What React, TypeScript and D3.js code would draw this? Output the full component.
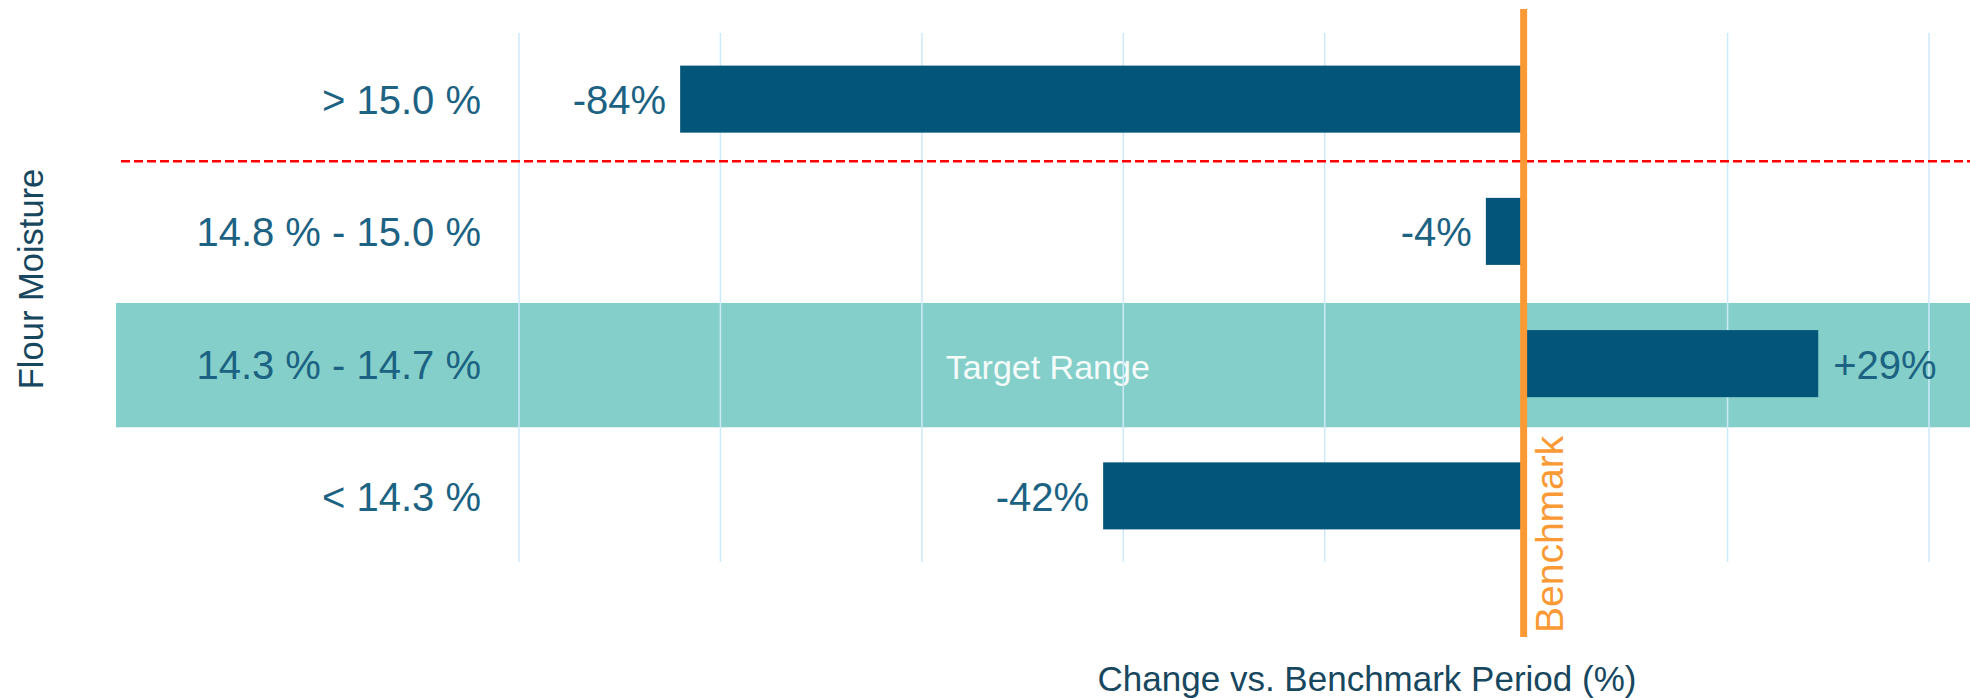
import React from "react";
import * as d3 from "d3";

const categories = ["> 15.0 %", "14.8 % - 15.0 %", "14.3 % - 14.7 %", "< 14.3 %"];
const values = [-84, -4, 29, -42];
const valueLabels = ["-84%", "-4%", "+29%", "-42%"];
const gridTicks = [-100, -80, -60, -40, -20, 0, 20, 40];
const targetCategory = "14.3 % - 14.7 %";
const targetLabel = "Target Range";
const targetLabelValue = -47.5;
const thresholdAfter = "> 15.0 %";
const xTitle = "Change vs. Benchmark Period (%)";
const yTitle = "Flour Moisture";
const benchmarkLabel = "Benchmark";

const W = 1970;
const H = 698;
const FONT = "'Liberation Sans', Arial, Helvetica, sans-serif";

export default function App() {
  const x = d3.scaleLinear().domain([-100, 40]).range([519, 1929]);
  const y = d3
    .scaleBand<string>()
    .domain(categories)
    .range([33, 562])
    .paddingInner(0.493)
    .paddingOuter(0.2465);
  const step = y.step();
  const center = (c: string) => (y(c) as number) + y.bandwidth() / 2;
  const plotLeft = 116;
  const plotRight = W;
  const x0 = x(0);

  const bandC = center(targetCategory) + 1.5;
  const bandH = step * 0.94;
  const thresholdY = center(thresholdAfter) + step / 2 - 4;

  return (
    <svg
      width={W}
      height={H}
      style={{ position: "absolute", left: 0, top: 0, display: "block" }}
      fontFamily={FONT}
    >
      <rect x={0} y={0} width={W} height={H} fill="#ffffff" />
      {/* target band */}
      <rect
        x={plotLeft}
        y={bandC - bandH / 2}
        width={plotRight - plotLeft}
        height={bandH}
        fill="#84cfc9"
      />
      <text
        x={x(targetLabelValue)}
        y={bandC + 2}
        dy="0.35em"
        textAnchor="middle"
        fontSize={34}
        fill="#f4fbfa"
      >
        {targetLabel}
      </text>
      {/* gridlines */}
      {gridTicks.map((t) => (
        <line
          key={t}
          x1={x(t)}
          x2={x(t)}
          y1={33}
          y2={562}
          stroke="#cdeafa"
          strokeWidth={1.5}
        />
      ))}
      {/* threshold dashed line */}
      <line
        x1={121}
        x2={plotRight}
        y1={thresholdY}
        y2={thresholdY}
        stroke="#ff0000"
        strokeWidth={2.6}
        strokeDasharray="9,4"
      />
      {/* bars */}
      {categories.map((c, i) => {
        const v = values[i];
        const bx = Math.min(x(v), x0);
        const bw = Math.abs(x(v) - x0);
        return (
          <rect
            key={c}
            x={bx}
            y={y(c) as number}
            width={bw}
            height={y.bandwidth()}
            fill="#03567a"
          />
        );
      })}
      {/* value labels */}
      {categories.map((c, i) => {
        const v = values[i];
        const neg = v < 0;
        return (
          <text
            key={c}
            x={neg ? x(v) - 14 : x(v) + 15}
            y={center(c) + 1}
            dy="0.35em"
            textAnchor={neg ? "end" : "start"}
            fontSize={40}
            fill="#1c6282"
          >
            {valueLabels[i]}
          </text>
        );
      })}
      {/* category labels */}
      {categories.map((c) => (
        <text
          key={c}
          x={481}
          y={center(c) + 1}
          dy="0.35em"
          textAnchor="end"
          fontSize={40}
          fill="#1c6282"
        >
          {c}
        </text>
      ))}
      {/* benchmark line */}
      <line
        x1={x0 - 2.5}
        x2={x0 - 2.5}
        y1={9}
        y2={637}
        stroke="#fb9a35"
        strokeWidth={7}
      />
      <text
        transform={`translate(${x0 + 37},633) rotate(-90)`}
        fontSize={39}
        fill="#fb9a35"
      >
        {benchmarkLabel}
      </text>
      {/* axis titles */}
      <text
        x={1367}
        y={691}
        textAnchor="middle"
        fontSize={35}
        fill="#17475e"
      >
        {xTitle}
      </text>
      <text
        transform={`translate(43,279) rotate(-90)`}
        textAnchor="middle"
        fontSize={34.5}
        fill="#17475e"
      >
        {yTitle}
      </text>
    </svg>
  );
}
